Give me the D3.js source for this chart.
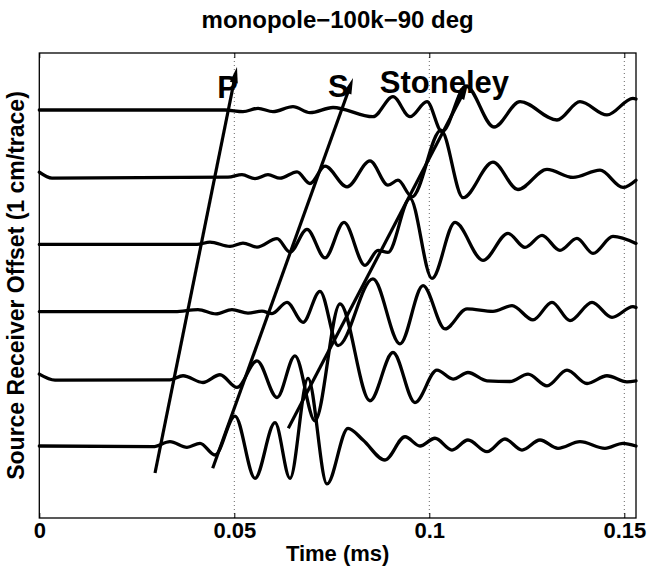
<!DOCTYPE html>
<html>
<head>
<meta charset="utf-8">
<script src="https://cdn.jsdelivr.net/npm/d3@7"></script>
<style>
  html, body { margin: 0; padding: 0; background: #fff; }
  text { font-family: "Liberation Sans", Arial, Helvetica, sans-serif; font-weight: bold; fill: #000; }
</style>
</head>
<body>
<svg id="chart" width="648" height="573"></svg>
<script>
// Receiver offsets, one trace per cm (bottom trace = nearest receiver)
const offsets = [1, 2, 3, 4, 5, 6];

// Time axis
const xDomain = [0, 0.153];
const xTicks = [0, 0.05, 0.1, 0.15];
const xTickLabels = ["0", "0.05", "0.1", "0.15"];

// Waveforms: [time (ms), amplitude in trace spacings] at successive extrema
const trace1 = [
  [0, 0], [0.02915, -0.010], [0.03351, 0.064], [0.03787, -0.019], [0.04121, 0.040],
  [0.04505, -0.134], [0.05018, 0.446], [0.05531, -0.481], [0.06044, 0.347],
  [0.06428, -0.481], [0.06890, 1.007], [0.07377, -0.565], [0.07915, 0.263],
  [0.08300, 0.089], [0.08864, -0.208], [0.09377, 0.138], [0.09762, 0.0],
  [0.10146, 0.115], [0.10582, -0.060], [0.10992, 0.089], [0.11479, -0.085],
  [0.11941, 0.104], [0.12377, -0.060], [0.12838, 0.089], [0.13300, -0.034],
  [0.13864, 0.064], [0.14505, -0.034], [0.14967, 0.040], [0.153, 0.0]
];
const trace2 = [
  [0, 0.070], [0.00403, -0.019], [0.03351, -0.015], [0.03685, 0.045], [0.04197, -0.055],
  [0.04633, 0.060], [0.05069, -0.129], [0.05582, 0.268], [0.06095, -0.278],
  [0.06556, 0.342], [0.07069, -0.625], [0.07710, 1.116], [0.08479, -0.327],
  [0.09069, 0.391], [0.09633, -0.353], [0.10197, 0.129], [0.10608, -0.004],
  [0.10992, 0.094], [0.11479, -0.030], [0.12069, -0.040], [0.12531, 0.070],
  [0.13018, -0.104], [0.13531, 0.129], [0.14044, -0.070], [0.14556, 0.045],
  [0.15069, -0.045], [0.153, -0.030]
];
const trace3 = [
  [0, 0], [0.03479, 0], [0.04069, 0.030], [0.04531, -0.034], [0.04941, 0.030],
  [0.05351, -0.022], [0.05710, 0.007], [0.05967, -0.030], [0.06351, 0.138],
  [0.06762, -0.159], [0.07197, 0.302], [0.07659, -0.506], [0.08556, 0.487],
  [0.09249, -0.481], [0.09839, 0.387], [0.10403, -0.257], [0.10967, 0.040],
  [0.11633, 0.004], [0.12121, 0.089], [0.12659, -0.124], [0.13146, 0.138],
  [0.13608, -0.134], [0.14172, 0.138], [0.14685, -0.085], [0.15223, 0.074],
  [0.153, 0.060]
];
const trace4 = [
  [0, 0], [0.04044, 0], [0.04377, 0.034], [0.04890, -0.030], [0.05223, 0.019],
  [0.05582, -0.040], [0.06095, 0.085], [0.06428, -0.115], [0.06864, 0.223],
  [0.07326, -0.201], [0.07813, 0.327], [0.08351, -0.313], [0.08685, -0.089],
  [0.08941, -0.119], [0.09505, 0.685], [0.10069, -0.506], [0.10659, 0.327],
  [0.11377, -0.238], [0.12018, 0.164], [0.12454, -0.045], [0.12890, 0.134],
  [0.13351, -0.089], [0.13787, 0.089], [0.14197, -0.134], [0.14710, 0.119],
  [0.153, 0.015]
];
const trace5 = [
  [0, 0.074], [0.00326, -0.015], [0.04838, 0], [0.05197, 0.037], [0.05531, -0.022],
  [0.05864, 0.037], [0.06172, -0.015], [0.06608, 0.079], [0.06941, -0.094],
  [0.07326, 0.164], [0.07890, -0.144], [0.08479, 0.243], [0.08941, -0.119],
  [0.09197, -0.045], [0.09556, -0.293], [0.10300, 0.699], [0.10864, -0.305],
  [0.11633, 0.223], [0.12274, -0.183], [0.13018, 0.115], [0.13685, -0.004],
  [0.14377, 0.104], [0.14967, -0.153], [0.153, -0.045]
];
const trace6 = [
  [0, 0], [0.04762, 0], [0.05223, -0.025], [0.05608, 0.025], [0.05992, -0.025],
  [0.06505, 0.050], [0.06941, -0.040], [0.07531, 0.037], [0.08556, -0.100],
  [0.09069, 0.198], [0.09505, -0.100], [0.09941, 0.124], [0.10326, -0.323],
  [0.10941, 0.357], [0.11659, -0.253], [0.12326, 0.124], [0.13274, -0.149],
  [0.13864, 0.124], [0.14556, -0.074], [0.15223, 0.174], [0.153, 0.164]
];
const traces = [trace1, trace2, trace3, trace4, trace5, trace6];

// Arrival moveout arrows: [time, offset] at tail and head, plus label anchors
const waveNames = ["P", "S", "Stoneley"];
const arrowTails = [[0.02967, 0.598], [0.04446, 0.668], [0.06385, 1.263]];
const arrowHeads = [[0.05069, 6.640], [0.08044, 6.476], [0.10992, 6.387]];
const labelAnchors = [[0.0456, 6.179], [0.0740, 6.193], [0.0873, 6.253]];

const svg = d3.select("#chart");
const W = 648, H = 573;
const plot = { left: 39.3, right: 636, top: 53, bottom: 518 };

const x = d3.scaleLinear().domain(xDomain).range([plot.left, plot.right]);
const y = d3.scaleLinear().domain([-0.0714, 6.848]).range([plot.bottom, plot.top]);

svg.append("rect").attr("width", W).attr("height", H).attr("fill", "#fff");

// dotted vertical grid
svg.append("g").selectAll("line").data(xTicks.filter(d => d > 0)).join("line")
  .attr("x1", d => x(d)).attr("x2", d => x(d))
  .attr("y1", plot.top).attr("y2", plot.bottom)
  .attr("stroke", "#666").attr("stroke-width", 1).attr("stroke-dasharray", "1,3");

// bottom axis with inward ticks
const xAxis = d3.axisBottom(x).tickValues(xTicks)
  .tickFormat((d, i) => xTickLabels[i]).tickSizeInner(-5).tickSizeOuter(0).tickPadding(12);
const gx = svg.append("g").attr("transform", `translate(0,${plot.bottom})`).call(xAxis);
gx.select(".domain").remove();
gx.selectAll(".tick line").attr("stroke", "#000").attr("stroke-width", 1);
gx.selectAll(".tick text").attr("font-size", 22).attr("font-family", "Liberation Sans, Arial, sans-serif")
  .attr("font-weight", "bold").attr("fill", "#000").attr("dy", "0.35em");

// top axis ticks (inward, no labels)
const xAxisTop = d3.axisTop(x).tickValues(xTicks).tickFormat("").tickSizeInner(-5).tickSizeOuter(0);
const gt = svg.append("g").attr("transform", `translate(0,${plot.top})`).call(xAxisTop);
gt.select(".domain").remove();
gt.selectAll(".tick line").attr("stroke", "#000").attr("stroke-width", 1);

// frame
svg.append("rect")
  .attr("x", plot.left).attr("y", plot.top)
  .attr("width", plot.right - plot.left).attr("height", plot.bottom - plot.top)
  .attr("fill", "none").attr("stroke", "#000").attr("stroke-width", 1.3);

// waveforms
const line = d3.line()
  .x(d => x(d[0]))
  .y(d => y(d[1]))
  .curve(d3.curveMonotoneX);

svg.append("g").selectAll("path").data(traces).join("path")
  .attr("d", (tr, i) => line(tr.map(p => [p[0], offsets[i] + p[1]])))
  .attr("fill", "none").attr("stroke", "#000").attr("stroke-width", 3.3)
  .attr("stroke-linejoin", "round").attr("stroke-linecap", "round");

// moveout arrows
const gA = svg.append("g");
waveNames.forEach((name, i) => {
  const x0 = x(arrowTails[i][0]), y0 = y(arrowTails[i][1]);
  const x1 = x(arrowHeads[i][0]), y1 = y(arrowHeads[i][1]);
  const len = Math.hypot(x1 - x0, y1 - y0);
  const ux = (x1 - x0) / len, uy = (y1 - y0) / len;
  const hl = 16, hw = 4;
  const bx = x1 - ux * hl, by = y1 - uy * hl;
  gA.append("line")
    .attr("x1", x0).attr("y1", y0).attr("x2", bx + ux * 2).attr("y2", by + uy * 2)
    .attr("stroke", "#000").attr("stroke-width", 3.2);
  gA.append("path")
    .attr("d", `M${x1},${y1}L${bx - uy * hw},${by + ux * hw}L${bx + uy * hw},${by - ux * hw}Z`)
    .attr("fill", "#000");
  gA.append("text")
    .attr("x", x(labelAnchors[i][0])).attr("y", y(labelAnchors[i][1]))
    .attr("font-size", 31).text(name);
});

// title and axis labels
svg.append("text").attr("x", (plot.left + plot.right) / 2).attr("y", 28)
  .attr("text-anchor", "middle").attr("font-size", 24).text("monopole\u2212100k\u221290 deg");
svg.append("text").attr("x", (plot.left + plot.right) / 2).attr("y", 561)
  .attr("text-anchor", "middle").attr("font-size", 22).text("Time (ms)");
svg.append("text").attr("transform", `translate(24,${(plot.top + plot.bottom) / 2}) rotate(-90)`)
  .attr("text-anchor", "middle").attr("font-size", 23).text("Source Receiver Offset (1 cm/trace)");
</script>
</body>
</html>
